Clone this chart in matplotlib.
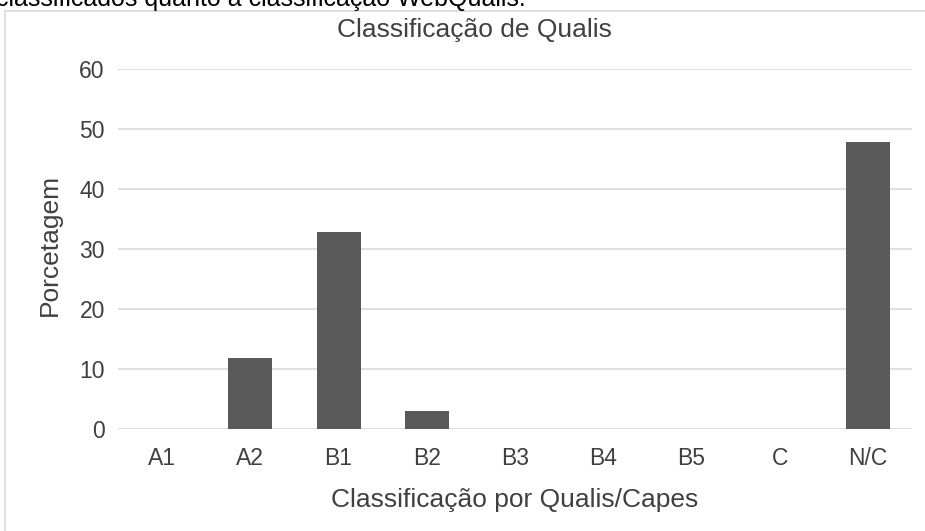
import matplotlib.pyplot as plt
from matplotlib.patches import Rectangle

categorias = ['A1', 'A2', 'B1', 'B2', 'B3', 'B4', 'B5', 'C', 'N/C']
porcentagens = [0, 11.9, 32.8, 3.0, 0, 0, 0, 0, 47.8]
ticks_y = [0, 10, 20, 30, 40, 50, 60]

plt.rcParams['font.family'] = ['Liberation Sans', 'DejaVu Sans']

W, H = 925, 531
fig = plt.figure(figsize=(W / 100, H / 100), dpi=100)
ax = fig.add_axes([118 / W, 1 - 429 / H, (912 - 118) / W, 360 / H])

# moldura do grafico (cortada pela imagem)
fig.patches.append(Rectangle((5 / W, -0.05), 1.0, 1 - 11 / H + 0.05,
                             transform=fig.transFigure, fill=False,
                             edgecolor='#d9d9d9', linewidth=1.2))

# texto do documento cortado no topo
fig.text(-4 / W, 1 - 6 / H, 'classificados quanto à classificação WebQualis.',
         fontsize=18, color='black', va='baseline', ha='left')

x = range(len(categorias))
ax.bar(x, porcentagens, width=0.5, color='#595959', zorder=3)

ax.set_ylim(0, 60)
ax.set_xlim(-0.5, len(categorias) - 0.5)
ax.set_yticks(ticks_y)
ax.set_xticks(list(x))
ax.set_xticklabels(categorias)
ax.grid(axis='y', color='#d9d9d9', linewidth=1.2, zorder=0)
ax.tick_params(length=0, labelsize=16.5, labelcolor='#404040')
ax.tick_params(axis='x', pad=13)
ax.tick_params(axis='y', pad=9.5)
for s in ax.spines.values():
    s.set_visible(False)

# titulo centrado na area do grafico
fig.text(474 / W, 1 - 37 / H, 'Classificação de Qualis', fontsize=19,
         color='#404040', ha='center', va='baseline')

ax.set_ylabel('Porcetagem', fontsize=19, color='#404040')
ax.yaxis.label.set_va('center')
ax.yaxis.set_label_coords((50 - 118) / 794, 0.512)
ax.set_xlabel('Classificação por Qualis/Capes', fontsize=19, color='#404040')
ax.xaxis.label.set_va('baseline')
ax.xaxis.set_label_coords(0.5, (429 - 507) / 360)

plt.savefig('out.png', dpi=100)
